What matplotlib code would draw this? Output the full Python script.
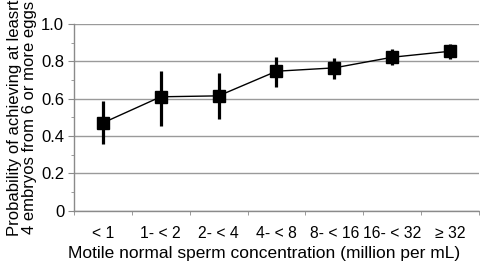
import matplotlib
matplotlib.use("Agg")
import matplotlib.pyplot as plt
import numpy as np

categories = ["< 1", "1- < 2", "2- < 4", "4- < 8", "8- < 16", "16- < 32", "\u2265 32"]
prob = [0.47, 0.61, 0.615, 0.747, 0.765, 0.822, 0.854]
upper = [0.588, 0.749, 0.738, 0.824, 0.818, 0.865, 0.895]
lower = [0.355, 0.453, 0.492, 0.663, 0.704, 0.779, 0.811]

plt.rcParams['font.family'] = ['Liberation Sans', 'DejaVu Sans']

fig = plt.figure(figsize=(4.8, 2.61), dpi=100)
ax = fig.add_axes([0.154, 0.193, 0.844, 0.715])

x = np.arange(len(categories))
p = np.array(prob)
yerr = np.vstack([p - np.array(lower), np.array(upper) - p])

ax.errorbar(x, p, yerr=yerr, fmt='none', ecolor='black', elinewidth=2.3, capsize=0, zorder=3)
ax.plot(x, p, color='black', linewidth=1.0, marker='s', markersize=8, zorder=4)

ax.set_xlim(-0.5, len(categories) - 0.5)
ax.set_ylim(0, 1.0)
ax.set_yticks([0, 0.2, 0.4, 0.6, 0.8, 1.0])
ax.set_yticklabels(["0", "0.2", "0.4", "0.6", "0.8", "1.0"])
ax.set_yticks(np.arange(0.1, 1.0, 0.2), minor=True)
ax.set_xticks(x)
ax.set_xticklabels(categories)
ax.set_xticks(np.arange(-0.5, len(categories), 1.0), minor=True)

ax.grid(axis='y', which='major', color='#9a9a9a', linewidth=1.0)
ax.set_axisbelow(True)
for s in ['top', 'right']:
    ax.spines[s].set_visible(False)
for s in ['left', 'bottom']:
    ax.spines[s].set_color('#8a8a8a')
    ax.spines[s].set_linewidth(1.0)

ax.tick_params(axis='x', which='major', length=0, labelsize=11.3, pad=11)
ax.tick_params(axis='x', which='minor', length=3, color='#8a8a8a')
ax.tick_params(axis='y', which='major', length=4, color='#8a8a8a', labelsize=12, pad=3)
ax.tick_params(axis='y', which='minor', length=2, color='#8a8a8a')

ax.set_xlabel("Motile normal sperm concentration (million per mL)", fontsize=12.5)
ax.xaxis.set_label_coords(0.47, -0.19)
ax.set_ylabel("Probability of achieving at leasrt\n4 embryos from 6 or more eggs", fontsize=12, labelpad=3, linespacing=1.0)

fig.savefig("out.png", dpi=100)
